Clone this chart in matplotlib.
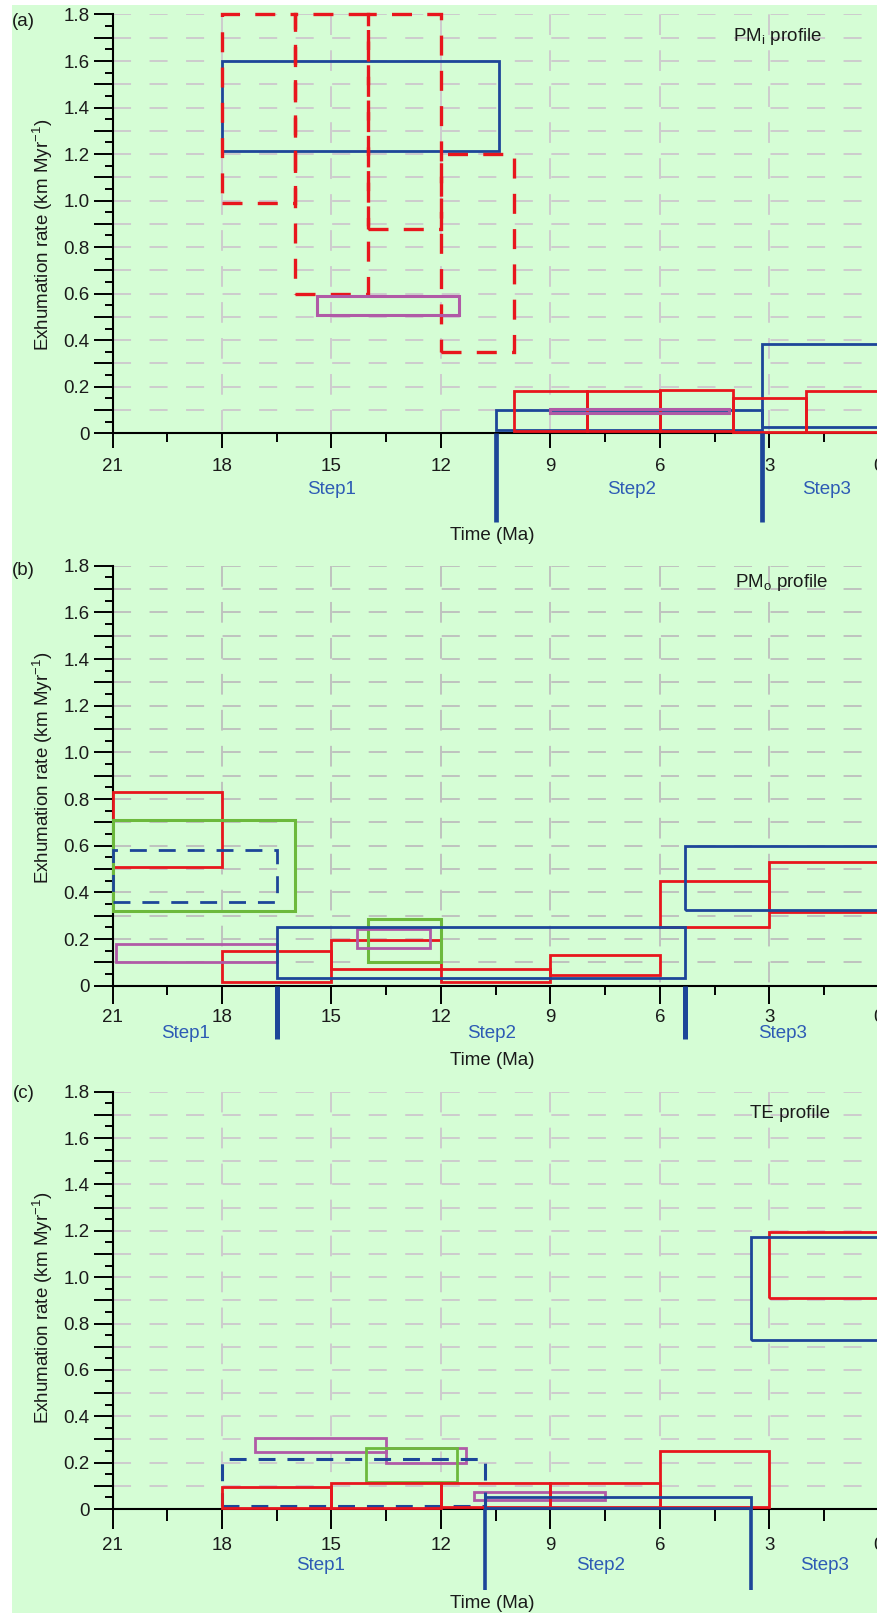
import matplotlib
matplotlib.use("Agg")
import matplotlib.pyplot as plt
from matplotlib.patches import Rectangle
from matplotlib.ticker import MultipleLocator, FuncFormatter

W, H = 877, 1613

plt.rcParams["font.family"] = ["Liberation Sans", "DejaVu Sans"]
plt.rcParams["mathtext.fontset"] = "custom"
plt.rcParams["mathtext.rm"] = "Liberation Sans"
plt.rcParams["mathtext.it"] = "Liberation Sans:italic"
plt.rcParams["lines.scale_dashes"] = False

RED = "#e8161d"
BLUE = "#1d4699"
PURPLE = "#b05aa6"
GREEN = "#6cb93c"
STEP_TEXT = "#2d5bb5"
BG = "#d5fdd5"
FS = 13.5

# boxes: (older age Ma, younger age Ma, min rate, max rate) in km/Myr
a_red_dashed = [(18, 16, 0.99, 1.80), (16, 14, 0.60, 1.80), (14, 12, 0.88, 1.80), (12, 10, 0.35, 1.20)]
a_blue = [(18, 10.4, 1.215, 1.60), (10.5, 3.2, 0.012, 0.10), (3.2, 0, 0.025, 0.385)]
a_purple = [(15.4, 11.5, 0.51, 0.59), (9.0, 4.1, 0.085, 0.104)]
a_red = [(10, 8, 0.01, 0.18), (8, 6, 0.01, 0.18), (6, 4, 0.01, 0.185), (4, 2, 0.005, 0.15), (2, 0, 0.005, 0.18)]
a_steps = [10.5, 3.2]

b_red = [(21, 18, 0.51, 0.83), (18, 15, 0.015, 0.15), (15, 12, 0.072, 0.196), (12, 9, 0.015, 0.072),
         (9, 6, 0.045, 0.13), (6, 3, 0.25, 0.45), (3, 0, 0.315, 0.53)]
b_green = [(21, 16, 0.32, 0.71), (14, 12, 0.10, 0.286)]
b_blue_dashed = [(21, 16.5, 0.36, 0.58)]
b_purple = [(20.9, 16.5, 0.10, 0.177), (14.3, 12.3, 0.16, 0.243)]
b_blue = [(16.5, 5.3, 0.032, 0.25), (5.3, 0, 0.324, 0.60)]
b_steps = [16.5, 5.3]

c_purple = [(17.1, 13.5, 0.245, 0.305), (13.5, 11.3, 0.20, 0.265), (11.1, 7.5, 0.038, 0.075)]
c_green = [(14.05, 11.55, 0.115, 0.265)]
c_blue_dashed = [(18, 10.8, 0.012, 0.215)]
c_red = [(18, 15, 0.005, 0.095), (15, 12, 0.005, 0.11), (12, 9, 0.008, 0.11), (9, 6, 0.008, 0.11),
         (6, 3, 0.008, 0.25), (3, 0, 0.91, 1.195)]
c_blue = [(10.8, 3.5, 0.005, 0.05), (3.5, 0, 0.73, 1.175)]
c_steps = [10.8, 3.5]

step_names = ["Step1", "Step2", "Step3"]

SOLID = "-"
RED_DASH = (0, (14.4, 11.0))
BLUE_DASH = (0, (12.2, 8.6))

panels = [
    dict(letter="(a)", title="PM$_\\mathrm{i}$ profile", title_xy=(4.0, 1.707),
         top=14.5, bottom=433.2, letter_y=22, ylabel_y=235, xlabel_dy=102,
         step_label_x=[15.0, 6.77, 1.42], step_label_dy=56, step_line_dy=88.5, step_lw=3.4,
         xtick_len=(15, 9), xtick_pad=7, grid="#cdc7cd",
         series=[(a_blue, BLUE, SOLID, 2.0), (a_red_dashed, RED, RED_DASH, 2.4),
                 (a_red, RED, SOLID, 2.0), (a_purple, PURPLE, SOLID, 2.2)],
         steps=a_steps),
    dict(letter="(b)", title="PM$_\\mathrm{o}$ profile", title_xy=(3.95, 1.727),
         top=565.7, bottom=985.7, letter_y=571, ylabel_y=768, xlabel_dy=75,
         step_label_x=[19.0, 10.6, 2.65], step_label_dy=48, step_line_dy=53, step_lw=3.6,
         xtick_len=(18, 9), xtick_pad=4, grid="#bdbdbd",
         series=[(b_red, RED, SOLID, 2.0), (b_green, GREEN, SOLID, 2.2),
                 (b_blue_dashed, BLUE, BLUE_DASH, 2.0), (b_purple, PURPLE, SOLID, 2.0),
                 (b_blue, BLUE, SOLID, 2.0)],
         steps=b_steps),
    dict(letter="(c)", title="TE profile", title_xy=(3.53, 1.706),
         top=1091.7, bottom=1509.0, letter_y=1094, ylabel_y=1308, xlabel_dy=94,
         step_label_x=[15.3, 7.62, 1.5], step_label_dy=56, step_line_dy=81, step_lw=2.6,
         xtick_len=(20, 12), xtick_pad=6, grid="#cdc7cd",
         series=[(c_purple, PURPLE, SOLID, 2.0), (c_green, GREEN, SOLID, 2.0),
                 (c_blue_dashed, BLUE, BLUE_DASH, 2.2), (c_red, RED, SOLID, 2.0),
                 (c_blue, BLUE, SOLID, 2.0)],
         steps=c_steps),
]

LEFT_PX = 112.5
RIGHT_PX = 878.8  # x = 0 Ma sits just past the right edge of the picture


def ylab(v, _):
    k = int(round(v * 10))
    if k % 2:
        return ""
    return "0" if k == 0 else f"{v:.1f}"


fig = plt.figure(figsize=(W / 100, H / 100), dpi=100, facecolor="white")
fig.patches.append(Rectangle((12 / W, 0), 1, 1 - 5 / H, transform=fig.transFigure,
                             facecolor=BG, edgecolor="none", zorder=-10))

for p in panels:
    h_px = p["bottom"] - p["top"]
    ax = fig.add_axes([LEFT_PX / W, 1 - p["bottom"] / H, (RIGHT_PX - LEFT_PX) / W, h_px / H])
    ax.set_facecolor("none")
    ax.set_xlim(21, 0)
    ax.set_ylim(0, 1.8)
    ax.set_axisbelow(True)

    for s in ("top", "right"):
        ax.spines[s].set_visible(False)
    for s in ("left", "bottom"):
        ax.spines[s].set_linewidth(1.5)
        ax.spines[s].set_color("black")

    ax.xaxis.set_major_locator(MultipleLocator(3))
    ax.xaxis.set_minor_locator(MultipleLocator(1.5))
    ax.xaxis.set_major_formatter(FuncFormatter(lambda v, _: f"{v:.0f}"))
    ax.yaxis.set_major_locator(MultipleLocator(0.1))
    ax.yaxis.set_minor_locator(MultipleLocator(0.05))
    ax.yaxis.set_major_formatter(FuncFormatter(ylab))

    ax.tick_params(axis="x", which="major", direction="out", length=p["xtick_len"][0] * 0.72,
                   width=1.4, pad=p["xtick_pad"], labelsize=FS, labelcolor="#1a1a1a")
    ax.tick_params(axis="x", which="minor", direction="out", length=p["xtick_len"][1] * 0.72, width=1.4)
    ax.tick_params(axis="y", which="major", direction="out", length=19 * 0.72, width=1.4,
                   pad=3, labelsize=FS, labelcolor="#1a1a1a")
    ax.tick_params(axis="y", which="minor", direction="out", length=8 * 0.72, width=1.4)

    # dashed grid: horizontal every 0.1, vertical every 3 Ma
    ax.yaxis.grid(True, which="major", color=p["grid"], linewidth=1.3, linestyle=(0, (13.0, 13.3)))
    on, off = 14.9, 11.0
    h_pt = h_px * 0.72
    v_off = (on - h_pt) % (on + off)
    ax.xaxis.grid(True, which="major", color=p["grid"], linewidth=1.3, linestyle=(v_off, (on, off)))

    for boxes, color, ls, lw in p["series"]:
        for t_old, t_young, lo, hi in boxes:
            ax.add_patch(Rectangle((t_old, lo), t_young - t_old, hi - lo, fill=False,
                                   edgecolor=color, linewidth=lw, linestyle=ls,
                                   clip_on=False, zorder=3))

    tr = ax.get_xaxis_transform()
    line_y = -p["step_line_dy"] / h_px
    for x in p["steps"]:
        ax.plot([x, x], [0, line_y], color=BLUE, linewidth=p["step_lw"], transform=tr,
                clip_on=False, solid_capstyle="butt", zorder=4)
    for name, x in zip(step_names, p["step_label_x"]):
        ax.text(x, -p["step_label_dy"] / h_px, name, transform=tr, ha="center", va="center",
                fontsize=FS, color=STEP_TEXT)

    ax.text(p["title_xy"][0], p["title_xy"][1], p["title"], ha="left", va="center",
            fontsize=FS, color="#1a1a1a", zorder=5)

    fig.text(23.5 / W, 1 - p["letter_y"] / H, p["letter"], ha="center", va="center",
             fontsize=FS, color="#1a1a1a")
    fig.text(43 / W, 1 - p["ylabel_y"] / H, "Exhumation rate (km Myr$^{-1}$)", rotation=90,
             ha="center", va="center", fontsize=FS, color="#1a1a1a")
    fig.text(492 / W, 1 - (p["bottom"] + p["xlabel_dy"]) / H, "Time (Ma)", ha="center",
             va="center", fontsize=FS, color="#1a1a1a")

fig.savefig("out.png", dpi=100, facecolor=fig.get_facecolor())
